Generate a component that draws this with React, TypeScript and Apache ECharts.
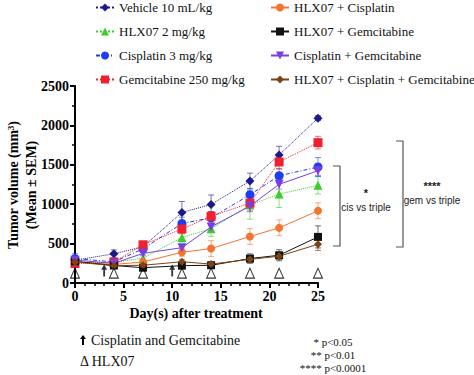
import React, { useEffect, useRef } from "react";
import * as echarts from "echarts";

const days = [0, 4, 7, 11, 14, 18, 21, 25];
const seriesNames = [
  "Vehicle 10 mL/kg",
  "HLX07 2 mg/kg",
  "Cisplatin 3 mg/kg",
  "Gemcitabine 250 mg/kg",
  "HLX07 + Cisplatin",
  "HLX07 + Gemcitabine",
  "Cisplatin + Gemcitabine",
  "HLX07 + Cisplatin + Gemcitabine",
];
const vehicle = [290, 370, 460, 895, 997, 1294, 1625, 2092];
const hlx07 = [260, 262, 315, 578, 688, 990, 1128, 1239];
const cis = [310, 268, 433, 755, 827, 1120, 1361, 1472];
const gem = [247, 266, 485, 685, 846, 1014, 1536, 1781];
const hlxCis = [270, 235, 267, 390, 437, 590, 700, 916];
const hlxGem = [275, 222, 194, 220, 225, 310, 352, 585];
const cisGem = [290, 250, 376, 448, 712, 976, 1252, 1425];
const triple = [265, 220, 225, 270, 240, 300, 340, 492];

const vehicleErr = [40, 50, 40, 140, 120, 100, 110, 30];
const hlx07Err = [30, 30, 40, 60, 100, 180, 170, 110];
const cisErr = [60, 40, 40, 80, 80, 80, 90, 120];
const gemErr = [40, 30, 40, 60, 60, 110, 90, 80];
const hlxCisErr = [30, 30, 30, 50, 100, 100, 100, 100];
const hlxGemErr = [20, 20, 20, 30, 30, 60, 70, 140];
const cisGemErr = [30, 30, 30, 40, 50, 60, 60, 60];
const tripleErr = [20, 20, 20, 30, 30, 40, 40, 80];

const hlxDays = [0, 4, 7, 11, 14, 18, 21, 25];
const chemoDays = [3, 10];

const xTicks = { min: 0, max: 25, interval: 5 };
const yTicks = { min: 0, max: 2500, interval: 500 };

const FONT = "Liberation Serif";
const SANS = "Liberation Sans";

const values = [vehicle, hlx07, cis, gem, hlxCis, hlxGem, cisGem, triple];
const errors = [vehicleErr, hlx07Err, cisErr, gemErr, hlxCisErr, hlxGemErr, cisGemErr, tripleErr];
const colors = ["#1c1a88", "#3dcc2e", "#1e3cf0", "#f0202e", "#f47430", "#111111", "#7a3fe0", "#7a4416"];
const symbols = ["diamond", "triangle", "circle", "rect", "circle", "rect", "path://M0,0 L10,0 L5,9 Z", "diamond"];
const lineTypes: any[] = ["dotted", "dotted", [4, 2, 1, 2], "dotted", "solid", "solid", "solid", "solid"];
const symSizes = [9, 9, 9, 9, 8, 8, 9, 8];

export default function App() {
  const ref = useRef<HTMLDivElement>(null);
  useEffect(() => {
    if (!ref.current) return;
    const chart = echarts.init(ref.current, null, { renderer: "svg" });

    const lineSeries = seriesNames.map((name, i) => ({
      name,
      type: "line",
      data: days.map((d, j) => [d, values[i][j]]),
      symbol: symbols[i],
      symbolSize: symSizes[i],
      itemStyle: { color: colors[i] },
      lineStyle: { color: colors[i], width: 1, type: lineTypes[i] },
      z: 3,
    }));

    const errSeries = seriesNames.map((name, i) => ({
      type: "custom",
      name: name + " err",
      z: 2,
      data: days.map((d, j) => [d, values[i][j], errors[i][j]]),
      renderItem: (params: any, api: any) => {
        const x = api.value(0);
        const v = api.value(1);
        const e = api.value(2);
        const top = api.coord([x, v + e]);
        const bot = api.coord([x, v - e]);
        const w = 3;
        const style = { stroke: colors[i], lineWidth: 1, opacity: 0.6 };
        return {
          type: "group",
          children: [
            { type: "line", shape: { x1: top[0], y1: top[1], x2: bot[0], y2: bot[1] }, style },
            { type: "line", shape: { x1: top[0] - w, y1: top[1], x2: top[0] + w, y2: top[1] }, style },
            { type: "line", shape: { x1: bot[0] - w, y1: bot[1], x2: bot[0] + w, y2: bot[1] }, style },
          ],
        };
      },
    }));

    const legendText = { fontFamily: FONT, fontSize: 13, color: "#111" };

    const option: any = {
      animation: false,
      textStyle: { fontFamily: FONT },
      grid: { left: 75, right: 156, top: 86, bottom: 92 },
      legend: [
        {
          data: seriesNames.slice(0, 4),
          orient: "vertical",
          left: 90,
          top: -4,
          itemWidth: 18,
          itemHeight: 10,
          itemGap: 11,
          textStyle: legendText,
        },
        {
          data: seriesNames.slice(4),
          orient: "vertical",
          left: 265,
          top: -4,
          itemWidth: 18,
          itemHeight: 10,
          itemGap: 11,
          textStyle: legendText,
        },
      ],
      xAxis: {
        type: "value",
        min: xTicks.min,
        max: xTicks.max,
        interval: xTicks.interval,
        axisLine: { lineStyle: { color: "#000", width: 2 } },
        axisTick: { show: true, length: 5, lineStyle: { color: "#000", width: 2 } },
        minorTick: { show: true, splitNumber: 5, length: 3, lineStyle: { color: "#000", width: 1.5 } },
        splitLine: { show: false },
        axisLabel: { fontFamily: FONT, fontWeight: "bold", fontSize: 14, color: "#000", margin: 6 },
      },
      yAxis: {
        type: "value",
        min: yTicks.min,
        max: yTicks.max,
        interval: yTicks.interval,
        axisLine: { show: true, lineStyle: { color: "#000", width: 2 } },
        axisTick: { show: true, length: 5, lineStyle: { color: "#000", width: 2 } },
        minorTick: { show: true, splitNumber: 2, length: 3, lineStyle: { color: "#000", width: 1.5 } },
        splitLine: { show: false },
        axisLabel: {
          fontFamily: FONT,
          fontWeight: "bold",
          fontSize: 14,
          color: "#000",
          margin: 6,
          formatter: (v: number) => String(v),
        },
      },
      series: [
        ...errSeries,
        ...lineSeries,
        {
          type: "scatter",
          name: "HLX07 dose",
          data: hlxDays.map((d) => [d, 125]),
          symbol: "path://M5,0 L10,10 L0,10 Z",
          symbolSize: [9, 10],
          itemStyle: { color: "transparent", borderColor: "#000", borderWidth: 1 },
          z: 5,
        },
        {
          type: "scatter",
          name: "Chemo dose",
          data: chemoDays.map((d) => [d, 160]),
          symbol: "path://M5,0 L10,7 L6.5,7 L6.5,16 L3.5,16 L3.5,7 L0,7 Z",
          symbolSize: [6, 12],
          itemStyle: { color: "#000" },
          z: 5,
        },
      ],
      graphic: [
        {
          type: "text",
          x: 13,
          y: 185,
          rotation: Math.PI / 2,
          style: {
            text: "Tumor volume (mm³)",
            font: `bold 14px ${FONT}`,
            fill: "#000",
            align: "center",
            verticalAlign: "middle",
          },
        },
        {
          type: "text",
          x: 31,
          y: 185,
          rotation: Math.PI / 2,
          style: {
            text: "(Mean ± SEM)",
            font: `bold 14px ${FONT}`,
            fill: "#000",
            align: "center",
            verticalAlign: "middle",
          },
        },
        {
          type: "text",
          x: 196,
          y: 313,
          style: {
            text: "Day(s) after treatment",
            font: `bold 14px ${FONT}`,
            fill: "#000",
            align: "center",
            verticalAlign: "middle",
          },
        },
        {
          type: "polyline",
          shape: { points: [[333, 166], [340, 166], [340, 246], [333, 246]] },
          style: { stroke: "#555", lineWidth: 1.2, fill: "none" },
        },
        {
          type: "polyline",
          shape: { points: [[396, 141], [403, 141], [403, 247], [396, 247]] },
          style: { stroke: "#555", lineWidth: 1.2, fill: "none" },
        },
        {
          type: "text",
          x: 366,
          y: 193,
          style: { text: "*", font: `bold 11px ${SANS}`, fill: "#222", align: "center", verticalAlign: "middle" },
        },
        {
          type: "text",
          x: 366,
          y: 207,
          style: { text: "cis vs triple", font: `10px ${SANS}`, fill: "#222", align: "center", verticalAlign: "middle" },
        },
        {
          type: "text",
          x: 432,
          y: 186,
          style: { text: "****", font: `bold 11px ${SANS}`, fill: "#222", align: "center", verticalAlign: "middle" },
        },
        {
          type: "text",
          x: 432,
          y: 200,
          style: { text: "gem vs triple", font: `10px ${SANS}`, fill: "#222", align: "center", verticalAlign: "middle" },
        },
        {
          type: "polygon",
          shape: { points: [[83, 335], [86, 339], [84, 339], [84, 345], [82, 345], [82, 339], [80, 339]] },
          style: { fill: "#000" },
        },
        {
          type: "text",
          x: 91,
          y: 340,
          style: { text: "Cisplatin and Gemcitabine", font: `14px ${FONT}`, fill: "#111", verticalAlign: "middle" },
        },
        {
          type: "text",
          x: 80,
          y: 361,
          style: { text: "Δ HLX07", font: `14px ${FONT}`, fill: "#111", verticalAlign: "middle" },
        },
        {
          type: "text",
          x: 333,
          y: 342,
          style: { text: "* p<0.05", font: `11px ${FONT}`, fill: "#111", align: "center", verticalAlign: "middle" },
        },
        {
          type: "text",
          x: 333,
          y: 355,
          style: { text: "** p<0.01", font: `11px ${FONT}`, fill: "#111", align: "center", verticalAlign: "middle" },
        },
        {
          type: "text",
          x: 333,
          y: 368,
          style: { text: "**** p<0.0001", font: `11px ${FONT}`, fill: "#111", align: "center", verticalAlign: "middle" },
        },
      ],
    };
    chart.setOption(option);
    return () => chart.dispose();
  }, []);
  return (
    <div
      ref={ref}
      style={{ position: "fixed", left: 0, top: 0, width: 474, height: 375, background: "#fff" }}
    />
  );
}
